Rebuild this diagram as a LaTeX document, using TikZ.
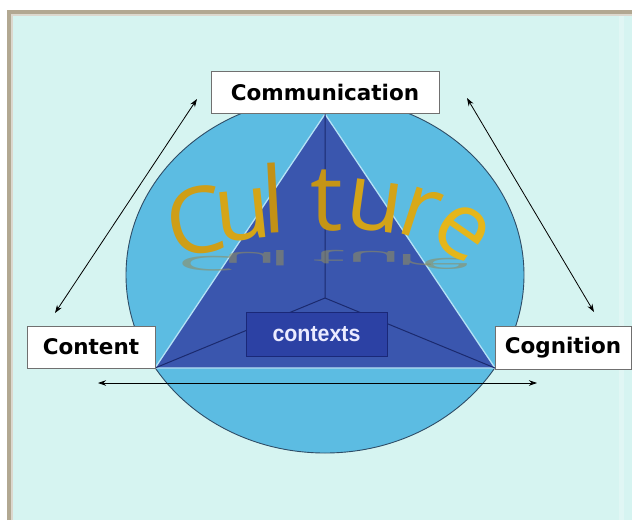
\documentclass[tikz,border=0pt]{standalone}
\usepackage{fontspec}
\usetikzlibrary{arrows.meta}
\newfontfamily\lblfont{DejaVu Sans}
\newfontfamily\ctxfont{Liberation Sans}
\newfontfamily\culfont{Open Sans}
\definecolor{bg}{HTML}{D6F4F1}
\definecolor{framec}{HTML}{B2A892}
\definecolor{ell}{HTML}{5CBCE2}
\definecolor{elledge}{HTML}{2E4C66}
\definecolor{tri}{HTML}{3A56AE}
\definecolor{triedge}{HTML}{B5E2F6}
\definecolor{navy}{HTML}{1B2A6E}
\definecolor{ctx}{HTML}{2C41A4}
\definecolor{ctxedge}{HTML}{1A2878}
\definecolor{goldtop}{HTML}{A06E12}
\definecolor{goldbot}{HTML}{F8CA1C}
\definecolor{goldshadow}{HTML}{8E8C62}
\definecolor{boxedge}{HTML}{707070}
% letter: x, y (baseline), rotation, percentage of dark gold, character
\newcommand\culletter[5]{%
  \begin{scope}[shift={(#1,#2)}]
    \node[cul, text=goldtop!#4!goldbot, rotate=#3, anchor=base] at (0,0) {#5};
  \end{scope}}
\newcommand\culshade[3]{%
  \begin{scope}[shift={(#1,#2)}]
    \node[culsh, anchor=base, yscale=-0.22] at (0,0) {#3};
  \end{scope}}
\begin{document}
\begin{tikzpicture}[x=1pt,y=-1pt,
  lbl/.style={draw=boxedge, line width=0.8pt, fill=white, inner sep=0pt, text=black,
    font={\lblfont\bfseries\fontsize{21.5}{24}\selectfont}},
  ctxbox/.style={draw=ctxedge, line width=1pt, fill=ctx, inner sep=0pt, text=white!92!blue,
    font={\ctxfont\bfseries\fontsize{23}{26}\selectfont}},
  cul/.style={inner sep=0pt, font={\culfont\fontsize{92}{96}\selectfont}},
  culsh/.style={inner sep=0pt, text=goldshadow, text opacity=0.6, font={\culfont\fontsize{92}{96}\selectfont}},
  link/.style={{Stealth[length=8pt,width=5.5pt]}-{Stealth[length=8pt,width=5.5pt]}, line width=0.8pt, black}]
\useasboundingbox (0,0) rectangle (632,520);
\fill[white] (0,0) rectangle (632,520);
\fill[bg] (7,10) rectangle (632,520);
\draw[framec, line width=3.5pt] (9,520) -- (9,12) -- (632,12);
\draw[framec!45!white, line width=1.5pt] (12,520) -- (12,15) -- (632,15);
\fill[white, opacity=0.25] (619,16) rectangle (624,520);

% circle (ellipse)
\draw[fill=ell, draw=elledge, line width=0.9pt] (325,275) ellipse [x radius=199, y radius=178];

% triangle
\coordinate (apex) at (325,114);
\coordinate (L) at (155,368);
\coordinate (R) at (495,368);
\coordinate (ctr) at (325,298);
\filldraw[fill=tri, draw=triedge, line width=1.3pt, line join=round] (apex) -- (L) -- (R) -- cycle;
\draw[navy, line width=1pt] (apex) -- (ctr) (ctr) -- (L) (ctr) -- (R);

% Culture reflection
\culshade{206}{256}{C}
\culshade{250}{252}{u}
\culshade{280}{250}{l}
\culshade{329}{250}{t}
\culshade{374}{251}{u}
\culshade{414}{254}{r}
\culshade{446}{258}{e}

% Culture
\culletter{201}{253}{10}{48}{C}
\culletter{245.6}{240}{6}{40}{u}
\culletter{275}{233}{3}{62}{l}
\culletter{327}{230}{0}{58}{t}
\culletter{371.5}{230}{-8}{42}{u}
\culletter{412}{237}{-18}{36}{r}
\culletter{448}{252}{-35}{22}{e}

% contexts
\node[ctxbox, minimum width=141, minimum height=44] (contexts) at (316.5,334) {\scalebox{0.93}[1]{contexts}};

% labels
\node[lbl, minimum width=228, minimum height=42] (comm) at (325,92) {Communication};
\node[lbl, minimum width=128, minimum height=42] (content) at (91,347) {Content};
\node[lbl, minimum width=136, minimum height=43] (cog) at (563,347.5) {Cognition};

% arrows
\coordinate (ulA) at (197,99);
\coordinate (ulB) at (55,313);
\coordinate (urA) at (467,98);
\coordinate (urB) at (594,312);
\coordinate (hA) at (98,383);
\coordinate (hB) at (537,383);
\draw[link] (ulA) -- (ulB);
\draw[link] (urA) -- (urB);
\draw[link] (hA) -- (hB);
\end{tikzpicture}
\end{document}
